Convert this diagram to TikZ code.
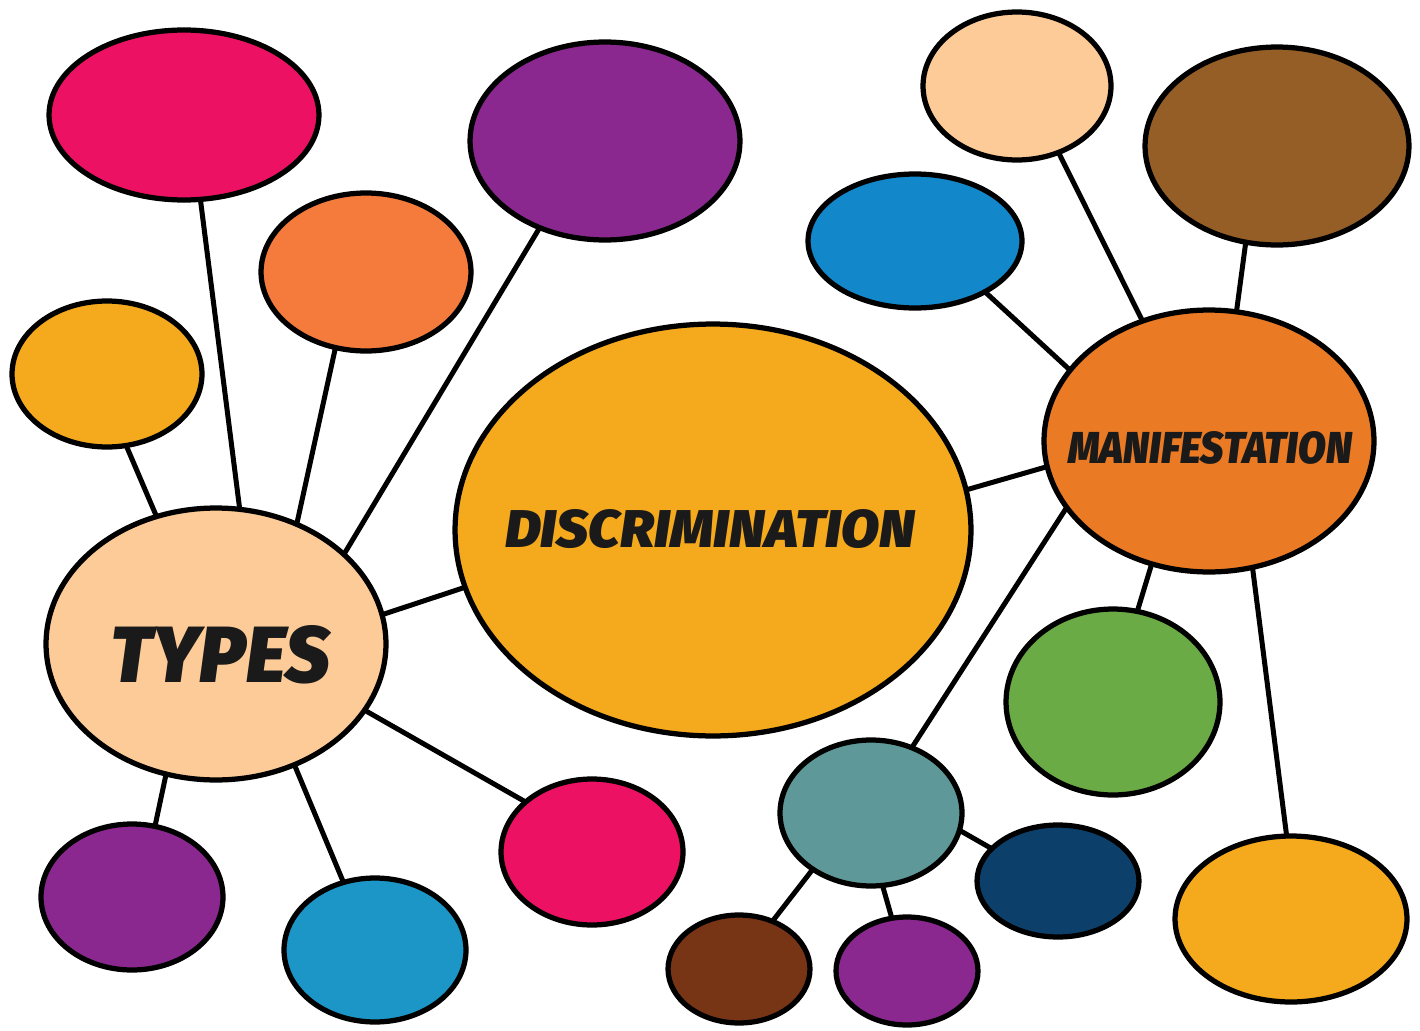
\documentclass[tikz,border=0pt]{standalone}
\usepackage{fontspec}
\usepackage{graphicx}
\newfontfamily\mapfont{Fira Sans Black Italic}
\usetikzlibrary{shapes.geometric,backgrounds}
\definecolor{inkblack}{HTML}{1A1A1A}
\definecolor{hotpink}{HTML}{ED1164}
\definecolor{grape}{HTML}{8B288F}
\definecolor{tangerine}{HTML}{F47B3C}
\definecolor{amber}{HTML}{F5A91D}
\definecolor{peach}{HTML}{FDCB98}
\definecolor{cocoa}{HTML}{945E26}
\definecolor{skyblue}{HTML}{1288CB}
\definecolor{pumpkin}{HTML}{EB7A24}
\definecolor{grass}{HTML}{6AAB45}
\definecolor{teal}{HTML}{5E9898}
\definecolor{navy}{HTML}{0C406B}
\definecolor{chestnut}{HTML}{773516}
\definecolor{cyan}{HTML}{1B96C7}
\begin{document}
\begin{tikzpicture}[x=0.02cm, y=-0.02cm,
                   bubble/.style={ellipse, draw=black, line width=0.105cm, inner sep=0pt, outer sep=0pt},
                   word/.style={text=inkblack, font=\mapfont, inner sep=0pt},
                   link/.style={draw=black, line width=0.1cm}]
	\useasboundingbox (0,0) rectangle (1420,1031);
	\begin{scope}[every node/.style={bubble}]
	\node[fill=peach, minimum width=6.8cm, minimum height=5.44cm] (types) at (216,644) {};
	\node[fill=amber, minimum width=10.32cm, minimum height=8.24cm] (discr) at (713,530) {};
	\node[fill=pumpkin, minimum width=6.6cm, minimum height=5.24cm] (manif) at (1209,441) {};
	% around types
	\node[fill=hotpink, minimum width=5.4cm, minimum height=3.4cm] (types-a) at (184,115) {};
	\node[fill=tangerine, minimum width=4.2cm, minimum height=3.16cm] (types-b) at (366,272) {};
	\node[fill=grape, minimum width=5.4cm, minimum height=3.96cm] (types-c) at (605,141) {};
	\node[fill=amber, minimum width=3.8cm, minimum height=2.92cm] (types-d) at (107,374) {};
	\node[fill=hotpink, minimum width=3.64cm, minimum height=2.92cm] (types-e) at (592,852) {};
	\node[fill=cyan, minimum width=3.64cm, minimum height=2.88cm] (types-f) at (375,950) {};
	\node[fill=grape, minimum width=3.64cm, minimum height=2.92cm] (types-g) at (132,897) {};
	% around manifestation
	\node[fill=peach, minimum width=3.76cm, minimum height=2.96cm] (manif-a) at (1017,86) {};
	\node[fill=cocoa, minimum width=5.28cm, minimum height=3.96cm] (manif-b) at (1277,146) {};
	\node[fill=skyblue, minimum width=4.28cm, minimum height=2.68cm] (manif-c) at (915,241) {};
	\node[fill=grass, minimum width=4.28cm, minimum height=3.72cm] (manif-d) at (1113,702) {};
	\node[fill=amber, minimum width=4.64cm, minimum height=3.32cm] (manif-e) at (1291,919) {};
	\node[fill=teal, minimum width=3.64cm, minimum height=2.92cm] (manif-f) at (871,813) {};
	\node[fill=navy, minimum width=3.24cm, minimum height=2.24cm] (manif-f1) at (1058,881) {};
	\node[fill=chestnut, minimum width=2.84cm, minimum height=2.16cm] (manif-f2) at (739,969) {};
	\node[fill=grape, minimum width=2.84cm, minimum height=2.16cm] (manif-f3) at (907,971) {};
	\end{scope}
	\begin{scope}[every node/.style={word}]
	\node (types-text) at (220,655) {\resizebox{4.4cm}{1.14cm}{TYPES}};
	\node (discr-text) at (710,529) {\resizebox{8.2cm}{0.76cm}{DISCRIMINATION}};
	\node (manif-text) at (1210,448) {\resizebox{5.68cm}{0.64cm}{MANIFESTATION}};
	\end{scope}
	\begin{scope}[on background layer, every path/.style={link}]
	\draw (types.80) -- (types-a.-79);
	\draw (types.56) -- (types-b.-112);
	\draw (types.35) -- (types-c.-127);
	\draw (types.115) -- (types-d.-75);
	\draw (types.10) -- (discr.193);
	\draw (types.-24) -- (types-e.143);
	\draw (types.-57) -- (types-f.115);
	\draw (types.-111) -- (types-g.72);
	\draw (discr.9) -- (manif.189);
	\draw (manif.119) -- (manif-a.-58);
	\draw (manif.78) -- (manif-b.-108);
	\draw (manif.153) -- (manif-c.-36);
	\draw (manif.-115) -- (manif-d.75);
	\draw (manif.-71) -- (manif-e.93);
	\draw (manif.205) -- (manif-f.58);
	\draw (manif-f.-11) -- (manif-f1.154);
	\draw (manif-f.-136) -- (manif-f2.55);
	\draw (manif-f.-81) -- (manif-f3.106);
	\end{scope}
\end{tikzpicture}
\end{document}
